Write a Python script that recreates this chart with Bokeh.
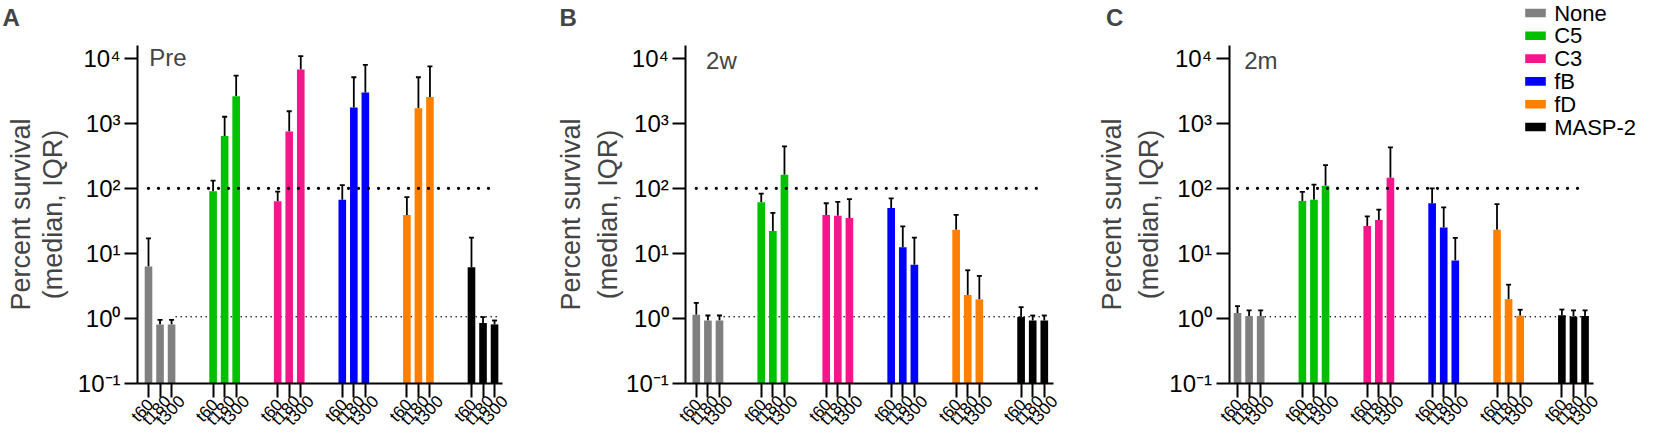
import math
from bokeh.plotting import figure
from bokeh.layouts import row
from bokeh.models import (Range1d, FixedTicker, Whisker, TeeHead, Label,
                          ColumnDataSource, LogAxis, LinearAxis)
from bokeh.core.properties import value
from bokeh.embed import file_html
from bokeh.resources import INLINE

FONT = "Liberation Sans"

# ---------------- data ----------------
groups = ["None", "C5", "C3", "fB", "fD", "MASP-2"]
times = ["t60", "t180", "t300"]
colors = ["#808080", "#00C000", "#F5168C", "#0000FF", "#FF7F00", "#000000"]
panel_letters = ["A", "B", "C"]
timepoints = ["Pre", "2w", "2m"]
ytick_values = [0.1, 1, 10, 100, 1000, 10000]
ytick_labels = ["10⁻¹", "10⁰", "10¹", "10²", "10³", "10⁴"]
ref_line_high = 100      # bold dotted line
ref_line_low = 1.06      # thin dotted line
y_label_1 = "Percent survival"
y_label_2 = "(median, IQR)"

# medians per group (rows) for t60, t180, t300 and upper IQR
pre_median = [[6.3, 0.81, 0.81], [90, 635, 2590], [63, 750, 6700],
              [67, 1750, 2960], [39, 1700, 2540], [6.1, 0.85, 0.81]]
pre_upper = [[17, 0.95, 0.95], [131, 1260, 5400], [89, 1530, 10800],
             [112, 5100, 7900], [73, 5100, 7500], [17.5, 1.05, 0.93]]
w2_median = [[1.14, 0.93, 0.93], [61, 22, 162], [39, 38, 35],
             [50, 12.4, 6.7], [23, 2.3, 1.96], [1.05, 0.93, 0.93]]
w2_upper = [[1.74, 1.11, 1.11], [83, 42, 440], [59, 62, 68],
            [70, 26, 17.5], [39, 5.5, 4.5], [1.49, 1.11, 1.11]]
m2_median = [[1.21, 1.09, 1.09], [64, 67, 110], [26.4, 32.6, 145],
             [59, 24.9, 7.8], [23, 1.98, 1.1], [1.12, 1.07, 1.09]]
m2_upper = [[1.55, 1.33, 1.33], [88, 114, 227], [37, 47, 425],
            [100, 51, 17.3], [57, 3.3, 1.36], [1.37, 1.33, 1.33]]

medians = [pre_median, w2_median, m2_median]
uppers = [pre_upper, w2_upper, m2_upper]

# ---------------- layout (page pixel coordinates) ----------------
GROUP_STEP = 28
BAR_STEP = 5
BAR_W = 3.3
FIG_TOP, FIG_BOTTOM = 8, 437
Y_BOTTOM_PAGE = 391.0      # page y of 10^-1
DECADE_PX = 65.06
AXIS_TOP_PAGE = 53.3
XLABEL_CENTER_PAGE = 418.0
XLABEL_DX = [-6.0, -3.5, -1.0]   # per time label, px
# fig_left, fig_right, first_bar, px_per_unit, axis_left, axis_right
panels = [(8, 530, 156.0, 2.307, 145.0, 509.5),
          (530, 1075, 703.8, 2.320, 693.3, 1061.0),
          (1075, 1645, 1245.0, 2.317, 1236.5, 1601.0)]
letter_pos = [(10, 25), (567, 25), (1113.5, 25)]
time_pos = [(156.7, 65), (713.6, 68.3), (1251.7, 68.3)]
ylab_x = [(28, 60), (578, 615), (1119, 1156)]
YLAB_CENTER = 222
# legend (page px): box centre x, box w, box h, text x, first row y, row step
LEG_BOX_X, LEG_BOX_W, LEG_BOX_H = 1543.0, 20.6, 8.6
LEG_TEXT_X, LEG_ROW0, LEG_STEP = 1561.7, 20.5, 22.8


def ylog(page_y):
    return 10 ** (-1 + (Y_BOTTOM_PAGE - page_y) / DECADE_PX)


def build(k):
    fl, fr, xb, ppu, al, ar = panels[k]
    p = figure(width=fr - fl, height=FIG_BOTTOM - FIG_TOP,
               y_axis_type="log", x_axis_location=None, y_axis_location=None,
               x_range=Range1d((fl - xb) / ppu, (fr - xb) / ppu),
               y_range=Range1d(ylog(FIG_BOTTOM), ylog(FIG_TOP)),
               output_backend="svg", toolbar_location=None, min_border=0)
    p.outline_line_color = None
    p.xgrid.grid_line_color = None
    p.ygrid.grid_line_color = None

    def sx(px):
        return px - fl

    def sy(py):
        return FIG_BOTTOM - py

    def dx(px):
        return (px - xb) / ppu

    xpos = [GROUP_STEP * g + BAR_STEP * i for g in range(len(groups)) for i in range(len(times))]
    xlab = [times[i % 3] for i in range(len(xpos))]
    xlab_x = [x + XLABEL_DX[i % 3] / ppu for i, x in enumerate(xpos)]

    p.line([xpos[2] + 2, xpos[-1] + 2], [ref_line_low, ref_line_low],
           line_color="black", line_width=1.6, line_dash="0 5", line_cap="round")

    for g in range(len(groups)):
        src = ColumnDataSource(dict(
            x=[GROUP_STEP * g + BAR_STEP * i for i in range(len(times))],
            top=medians[k][g], upper=uppers[k][g]))
        p.vbar(x="x", top="top", bottom=ytick_values[0], width=BAR_W, source=src,
               fill_color=colors[g], line_color=None)
        p.add_layout(Whisker(source=src, base="x", lower="top", upper="upper",
                             dimension="height", line_color="black", line_width=1.8,
                             upper_head=TeeHead(size=5, line_width=1.8, line_color="black"),
                             lower_head=None))

    p.line([xpos[0], xpos[-1]], [ref_line_high, ref_line_high],
           line_color="black", line_width=3.3, line_dash="0 10", line_cap="round")

    x_axis_start = (al - xb) / ppu
    x_axis_end = (ar - xb) / ppu

    xa = LinearAxis(fixed_location=ytick_values[0], bounds=(x_axis_start, x_axis_end))
    xa.ticker = FixedTicker(ticks=xpos)
    xa.major_label_overrides = {x: "" for x in xpos}
    xa.major_tick_out = 14
    xa.major_tick_in = 0
    xa.major_tick_line_width = 2
    xa.minor_tick_line_color = None
    xa.axis_line_width = 2
    p.add_layout(xa, "below")

    # rotated category labels under each tick
    p.text(x=xlab_x, y=[ylog(XLABEL_CENTER_PAGE)] * len(xpos), text=xlab,
           angle=0.82, text_align="center", text_baseline="middle",
           text_font=value(FONT), text_font_size="17px", text_color="black")

    ya = LogAxis(fixed_location=x_axis_start, bounds=(ytick_values[0], ylog(AXIS_TOP_PAGE)))
    ya.ticker = FixedTicker(ticks=ytick_values)
    ya.major_label_overrides = dict(zip(ytick_values, ytick_labels))
    ya.major_label_text_font_size = "24px"
    ya.major_label_text_font = FONT
    ya.major_label_text_color = "black"
    ya.major_tick_out = 13
    ya.major_tick_in = 0
    ya.major_tick_line_width = 2
    ya.minor_tick_line_color = None
    ya.axis_line_width = 2
    ya.major_label_standoff = 4
    p.add_layout(ya, "left")

    lx, ly = letter_pos[k]
    p.add_layout(Label(x=sx(lx), y=sy(ly), x_units="screen", y_units="screen",
                       text=panel_letters[k], text_font=FONT, text_font_size="24px",
                       text_font_style="bold", text_baseline="alphabetic"))
    tx, ty = time_pos[k]
    p.add_layout(Label(x=sx(tx), y=sy(ty), x_units="screen", y_units="screen",
                       text=timepoints[k], text_font=FONT, text_font_size="24px",
                       text_baseline="alphabetic"))
    for bx, txt in zip(ylab_x[k], (y_label_1, y_label_2)):
        p.add_layout(Label(x=sx(bx), y=sy(YLAB_CENTER), x_units="screen", y_units="screen",
                           text=txt, angle=math.pi / 2, text_font=FONT,
                           text_font_size="27px", text_align="center",
                           text_baseline="alphabetic"))

    if k == 2:
        rows_y = [ylog(LEG_ROW0 + LEG_STEP * g) for g in range(len(groups))]
        p.rect(x=[dx(LEG_BOX_X)] * len(groups), y=rows_y,
               width=LEG_BOX_W, height=LEG_BOX_H,
               width_units="screen", height_units="screen",
               fill_color=colors, line_color=None)
        p.text(x=[dx(LEG_TEXT_X)] * len(groups), y=rows_y, text=groups,
               text_align="left", text_baseline="middle",
               text_font=value(FONT), text_font_size="22px", text_color="black")
    return p


figs = [build(k) for k in range(3)]
layout = row(*figs)
open("out.html", "w").write(file_html(layout, INLINE))
